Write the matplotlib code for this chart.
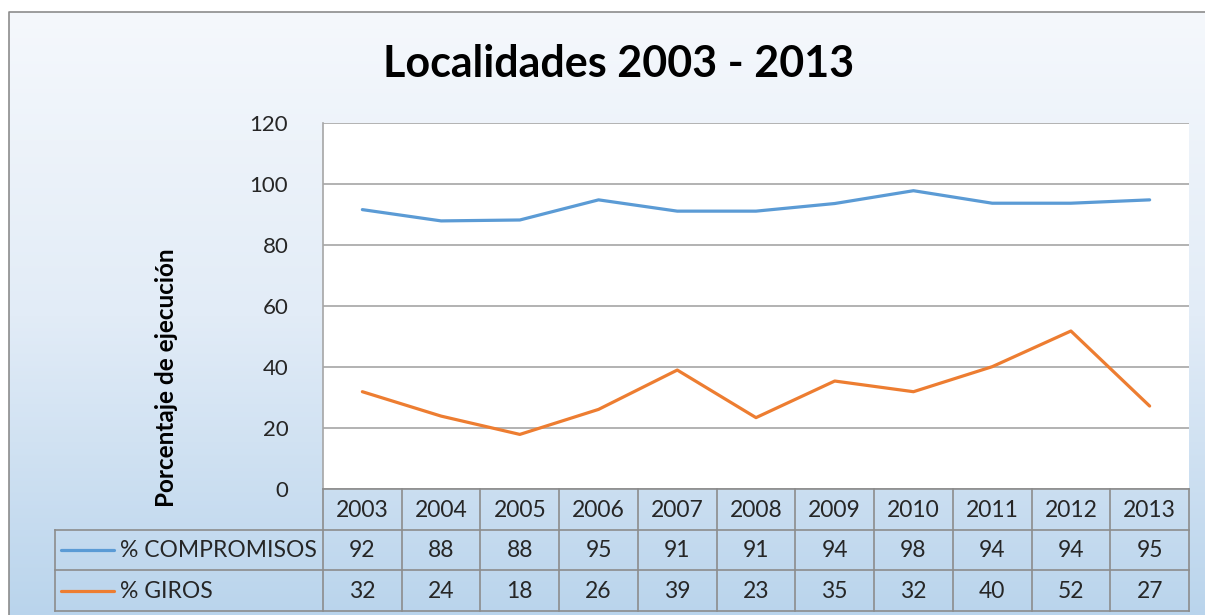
import matplotlib.pyplot as plt
import numpy as np
from matplotlib.colors import LinearSegmentedColormap

# data
years = ["2003", "2004", "2005", "2006", "2007", "2008", "2009", "2010", "2011", "2012", "2013"]
compromisos = [91.6, 87.9, 88.2, 94.8, 91.1, 91.1, 93.6, 97.8, 93.7, 93.7, 94.8]
giros = [31.9, 23.9, 17.9, 26.1, 39.0, 23.4, 35.4, 31.9, 40.1, 51.8, 27.2]
series_names = ["% COMPROMISOS", "% GIROS"]
yticks = [0, 20, 40, 60, 80, 100, 120]

blue = "#5B9BD5"
orange = "#ED7D31"
grid_col = "#A6A6A6"
text_col = "#262626"

plt.rcParams['font.family'] = ['Lato', 'DejaVu Sans']

W, H = 1205, 615
fig = plt.figure(figsize=(W / 100, H / 100), dpi=100)


def px(x0, y0, x1, y1):
    # pixel box (top-left origin) -> figure fraction rect
    return [x0 / W, 1 - y1 / H, (x1 - x0) / W, (y1 - y0) / H]


# gradient background of the chart area
bg = fig.add_axes([0, 0, 1, 1], zorder=-5)
cmap = LinearSegmentedColormap.from_list("bg", ["#F5F8FC", "#E2ECF7", "#B9D4EC"])
grad = np.linspace(0, 1, 256).reshape(-1, 1)
bg.imshow(grad, cmap=cmap, aspect="auto", extent=[9, W + 20, H + 5, 12])
bg.plot([9, 9, W + 5], [H + 5, 12, 12], color="#8C8C8C", lw=1.2)
bg.set_xlim(0, W)
bg.set_ylim(H, 0)
bg.axis("off")

# main plot area
ax = fig.add_axes(px(323, 123, 1189, 489))
x = np.arange(len(years))
ax.set_facecolor("white")
ax.plot(x, compromisos, color=blue, lw=2.3, solid_capstyle="round", zorder=3)
ax.plot(x, giros, color=orange, lw=2.3, solid_capstyle="round", zorder=3)
ax.set_xlim(-0.5, len(years) - 0.5)
ax.set_ylim(0, 120)
ax.set_yticks(yticks)
ax.set_yticklabels([str(t) for t in yticks], fontsize=16, color=text_col)
ax.set_xticks([])
ax.tick_params(axis="y", length=0, pad=25)
ax.grid(axis="y", color=grid_col, lw=1.2)
ax.set_axisbelow(True)
for s in ["top", "right", "bottom"]:
    ax.spines[s].set_visible(False)
ax.spines["left"].set_color(grid_col)
ax.spines["left"].set_linewidth(1.2)

fig.text(166 / W, 1 - 378 / H, "Porcentaje de ejecución", rotation=90,
         ha="center", va="center", fontsize=17.5, fontweight="bold", color="black")
fig.text(619 / W, 1 - 64 / H, "Localidades 2003 - 2013", ha="center", va="center",
         fontsize=31, fontweight="bold", color="black")

# data table below the plot
colw = (1189 - 323) / len(years)
legw = (323 - 55) / colw
tab = fig.add_axes(px(55, 489, 1189, 611))
tab.set_xlim(-0.5 - legw, len(years) - 0.5)
tab.set_ylim(3, 0)
tab.axis("off")
tab.patch.set_alpha(0)
lk = dict(color="#8C8C8C", lw=1.2, clip_on=False)
tab.plot([-0.5, len(years) - 0.5], [0, 0], **lk)
for r in [1, 2, 3]:
    tab.plot([-0.5 - legw, len(years) - 0.5], [r, r], **lk)
for i in range(len(years) + 1):
    tab.plot([i - 0.5, i - 0.5], [0, 3], **lk)
tab.plot([-0.5 - legw, -0.5 - legw], [1, 3], **lk)

fs = 16.5
for i, yr in enumerate(years):
    tab.text(i, 0.52, yr, ha="center", va="center", fontsize=fs, color=text_col)
    tab.text(i, 1.52, str(round(compromisos[i])), ha="center", va="center", fontsize=fs, color=text_col)
    tab.text(i, 2.52, str(round(giros[i])), ha="center", va="center", fontsize=fs, color=text_col)

x0 = -0.5 - legw
for r, (name, col) in enumerate(zip(series_names, [blue, orange])):
    tab.plot([x0 + 0.07, x0 + 0.75], [r + 1.5, r + 1.5], color=col, lw=2.3,
             solid_capstyle="round", clip_on=False)
    tab.text(x0 + 0.82, r + 1.52, name, ha="left", va="center", fontsize=fs, color=text_col)

plt.savefig("out.png", dpi=100)
